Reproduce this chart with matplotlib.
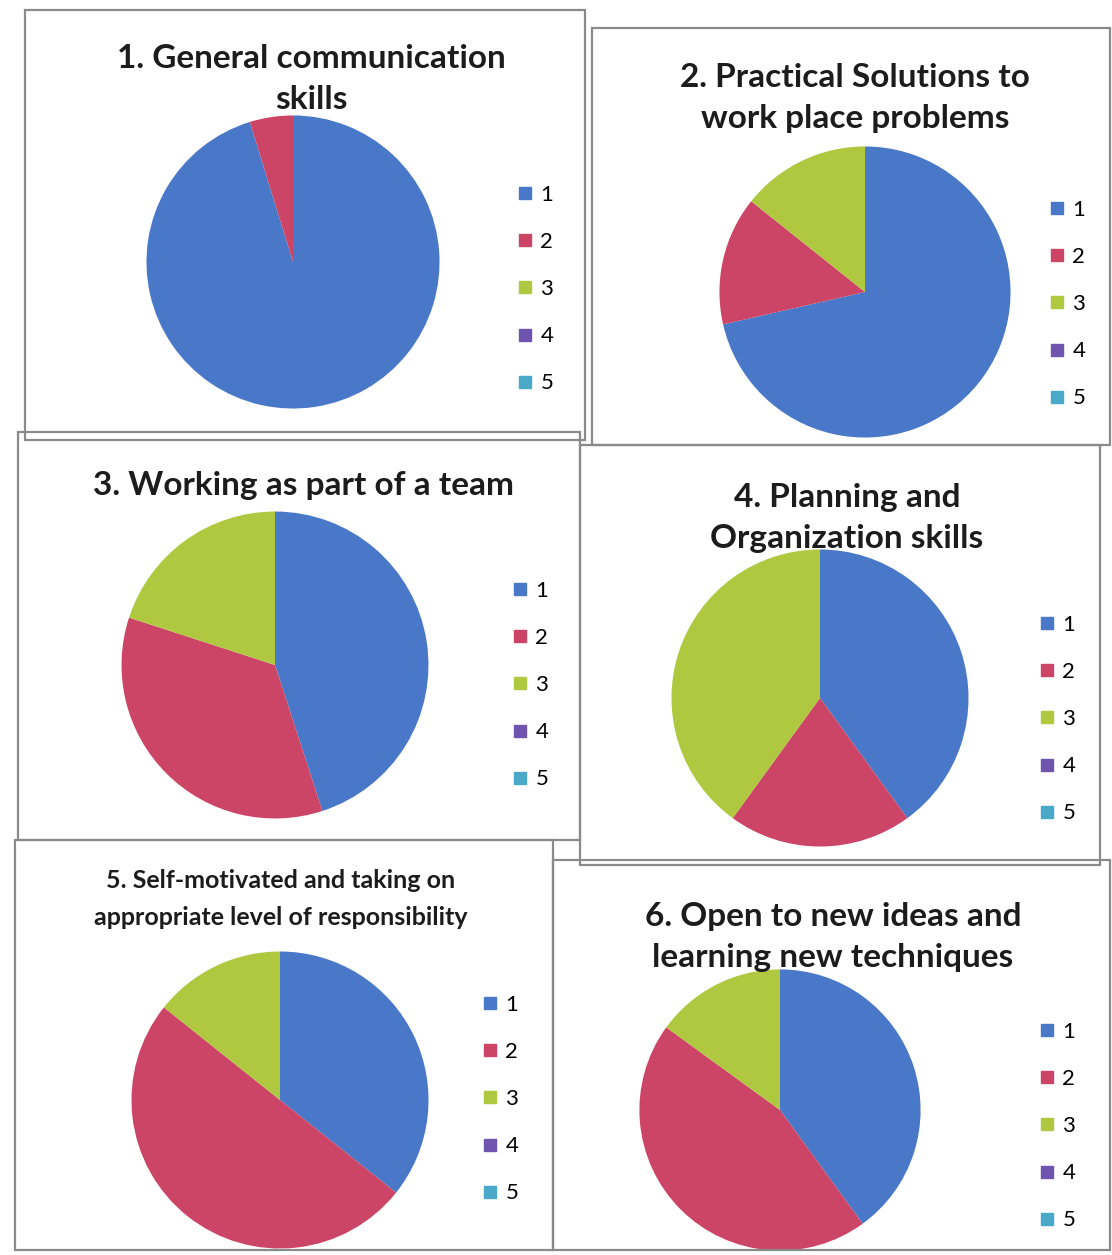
import matplotlib
matplotlib.use("Agg")
import matplotlib.pyplot as plt
from matplotlib.lines import Line2D
from matplotlib.patches import Rectangle

W, H = 1112, 1255

# response counts for ratings 1..5
labels = ["1", "2", "3", "4", "5"]
comm = [20, 1, 0, 0, 0]
practical = [10, 2, 2, 0, 0]
team = [9, 7, 4, 0, 0]
planning = [2, 1, 2, 0, 0]
motivated = [5, 7, 2, 0, 0]
open_ideas = [8, 9, 3, 0, 0]

titles = [
    "1. General communication\nskills",
    "2. Practical Solutions to\nwork place problems",
    "3. Working as part of a team",
    "4. Planning and\nOrganization skills",
    "5. Self-motivated and taking on\nappropriate level of responsibility",
    "6. Open to new ideas and\nlearning new techniques",
]
colors = ["#4a78c8", "#cc4466", "#b0c840", "#6f55b0", "#4aa8c8"]

# layout in pixels: box (x0, y0, x1, y1), pie centre + radius, title centre, legend left/top
panels = [
    dict(data=comm, box=(25, 10, 585, 440), pie=(293, 262, 148), title=(311, 79), tsize=24, ls=1.5, leg=(516, 193)),
    dict(data=practical, box=(592, 28, 1110, 445), pie=(865, 292, 147), title=(855, 98), tsize=24, ls=1.5, leg=(1048, 208)),
    dict(data=team, box=(18, 432, 580, 840), pie=(275, 665, 155), title=(303, 485), tsize=24, ls=1.5, leg=(511, 589)),
    dict(data=planning, box=(580, 445, 1100, 865), pie=(820, 698, 150), title=(847, 518), tsize=24, ls=1.5, leg=(1038, 623)),
    dict(data=motivated, box=(15, 840, 553, 1250), pie=(280, 1100, 150), title=(281, 899), tsize=18, ls=1.75, leg=(481, 1003)),
    dict(data=open_ideas, box=(553, 860, 1110, 1250), pie=(780, 1110, 142), title=(833, 937), tsize=24, ls=1.5, leg=(1038, 1030)),
]


def fx(x):
    return x / W


def fy(y):
    return 1 - y / H


fig = plt.figure(figsize=(W / 100, H / 100), dpi=100)
fig.patch.set_facecolor("white")

for i, p in enumerate(panels):
    x0, y0, x1, y1 = p["box"]
    fig.patches.append(Rectangle((fx(x0), fy(y1)), fx(x1 - x0), (y1 - y0) / H,
                                 transform=fig.transFigure, fill=False,
                                 edgecolor="#8a8a8a", lw=1.6, zorder=0))

    cx, cy, r = p["pie"]
    ax = fig.add_axes([fx(cx - r), fy(cy + r), fx(2 * r), 2 * r / H])
    ax.pie(p["data"], colors=colors, startangle=90, counterclock=False,
           radius=1, wedgeprops=dict(linewidth=0))
    ax.set_xlim(-1.01, 1.01)
    ax.set_ylim(-1.01, 1.01)
    ax.set_aspect("equal")
    ax.axis("off")

    tx, ty = p["title"]
    fig.text(fx(tx), fy(ty), titles[i], ha="center", va="center",
             fontsize=p["tsize"], fontweight="bold", family="Lato",
             color="#1c1c1c", linespacing=p["ls"])

    handles = [Line2D([], [], marker="s", linestyle="none", markersize=9,
                      markerfacecolor=c, markeredgecolor=c) for c in colors]
    lx, ly = p["leg"]
    ax.legend(handles, labels, loc="upper left",
              bbox_to_anchor=(fx(lx), fy(ly - 8)), bbox_transform=fig.transFigure,
              frameon=False, labelspacing=1.22, handlelength=0.8,
              handletextpad=0.3, borderpad=0, borderaxespad=0,
              prop=dict(family="Lato", size=16))

fig.savefig("out.png", dpi=100)
